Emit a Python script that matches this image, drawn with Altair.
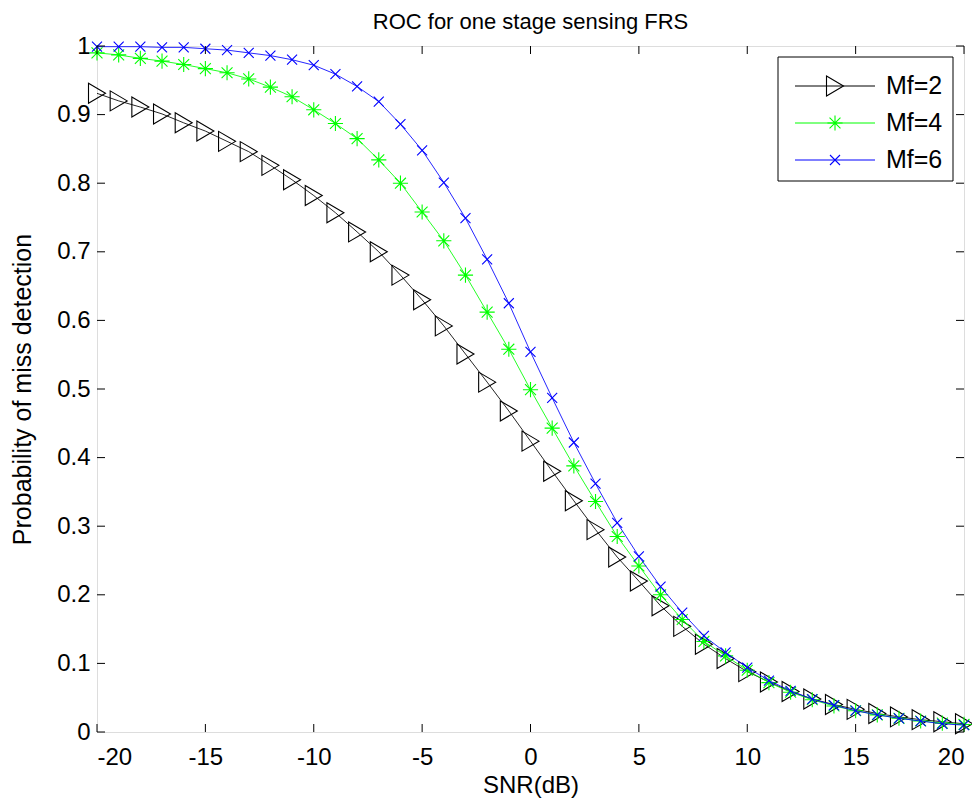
import altair as alt
import pandas as pd

snr = list(range(-20, 21))
pm_mf2 = [0.931, 0.920, 0.911, 0.901, 0.888, 0.876, 0.861, 0.846, 0.826, 0.805,
          0.782, 0.757, 0.729, 0.700, 0.666, 0.630, 0.592, 0.551, 0.510, 0.468,
          0.424, 0.380, 0.337, 0.295, 0.255, 0.220, 0.184, 0.154, 0.128, 0.107,
          0.088, 0.073, 0.059, 0.048, 0.040, 0.033, 0.027, 0.022, 0.018, 0.015, 0.012]
pm_mf4 = [0.990, 0.987, 0.982, 0.978, 0.973, 0.967, 0.961, 0.952, 0.940, 0.926,
          0.907, 0.887, 0.865, 0.834, 0.800, 0.758, 0.716, 0.666, 0.612, 0.558,
          0.499, 0.443, 0.388, 0.336, 0.285, 0.242, 0.200, 0.164, 0.132, 0.111,
          0.090, 0.072, 0.058, 0.047, 0.038, 0.031, 0.025, 0.020, 0.016, 0.013, 0.011]
pm_mf6 = [0.999, 0.999, 0.999, 0.998, 0.998, 0.996, 0.994, 0.990, 0.986, 0.980,
          0.972, 0.959, 0.941, 0.919, 0.886, 0.848, 0.801, 0.749, 0.689, 0.625,
          0.554, 0.487, 0.422, 0.362, 0.305, 0.256, 0.212, 0.174, 0.140, 0.116,
          0.094, 0.075, 0.060, 0.048, 0.039, 0.031, 0.025, 0.020, 0.016, 0.012, 0.010]
series_labels = ["Mf=2", "Mf=4", "Mf=6"]
x_ticks = [-20, -15, -10, -5, 0, 5, 10, 15, 20]
y_ticks = [0, 0.1, 0.2, 0.3, 0.4, 0.5, 0.6, 0.7, 0.8, 0.9, 1]

FONT = "Liberation Sans"
W, H = 867, 686
TICK_FS = 24
TITLE_FS = 25

colors = ["#000000", "#00ff00", "#0000ff"]
tri = "M-0.85,-1L0.85,0L-0.85,1Z"
star = "M0,-1L0,1M-1,0L1,0M-0.72,-0.72L0.72,0.72M0.72,-0.72L-0.72,0.72"
xmark = "M-1,-1L1,1M1,-1L-1,1"
shapes = [tri, star, xmark]
sizes = [400, 230, 100]

xs = alt.Scale(domain=[-20, 20], nice=False, zero=False)
ys = alt.Scale(domain=[0, 1], nice=False, zero=False)

x_enc = alt.X("snr:Q", scale=xs, axis=alt.Axis(
    values=x_ticks, ticks=False, tickSize=0, domain=False, grid=False,
    labelExpr="'' + datum.value", labelPadding=13, labelFontSize=TICK_FS,
    labelFont=FONT, labelColor="black", title="SNR(dB)", titleFont=FONT,
    titleFontSize=24, titleFontWeight="normal", titleColor="black", titlePadding=4))
y_enc = alt.Y("pm:Q", scale=ys, axis=alt.Axis(
    values=y_ticks, ticks=False, tickSize=0, domain=False, grid=False,
    format="~g", labelPadding=7, labelFontSize=TICK_FS, labelFont=FONT,
    labelColor="black", title="Probability of miss detection", titleFont=FONT,
    titleFontSize=TITLE_FS, titleFontWeight="normal", titleColor="black", titlePadding=21))

layers = []
for lab, vals, col, shp, sz in zip(series_labels, [pm_mf2, pm_mf4, pm_mf6], colors, shapes, sizes):
    df = pd.DataFrame({"snr": snr, "pm": vals})
    base = alt.Chart(df)
    layers.append(base.mark_line(color=col, strokeWidth=1, opacity=0.85).encode(x=x_enc, y=y_enc))
    layers.append(base.mark_point(shape=shp, size=sz, color=col, filled=False,
                                  strokeWidth=1.1, opacity=1).encode(x="snr:Q", y="pm:Q"))

# inward ticks on all four sides
xt = pd.DataFrame({"snr": x_ticks})
yt = pd.DataFrame({"pm": y_ticks})
tick_len = 8
layers.append(alt.Chart(xt).mark_rule(color="black", strokeWidth=1).encode(
    x="snr:Q", y=alt.value(H), y2=alt.value(H - tick_len)))
layers.append(alt.Chart(xt).mark_rule(color="black", strokeWidth=1).encode(
    x="snr:Q", y=alt.value(0), y2=alt.value(tick_len)))
layers.append(alt.Chart(yt).mark_rule(color="black", strokeWidth=1).encode(
    y="pm:Q", x=alt.value(0), x2=alt.value(tick_len)))
layers.append(alt.Chart(yt).mark_rule(color="black", strokeWidth=1).encode(
    y="pm:Q", x=alt.value(W), x2=alt.value(W - tick_len)))

# legend box
box = pd.DataFrame({"k": [0]})
layers.append(alt.Chart(box).mark_rect(fill="white", stroke="black", strokeWidth=1).encode(
    x=alt.value(681), x2=alt.value(856), y=alt.value(11), y2=alt.value(135)))
row_y = [40, 77, 114]
for lab, col, shp, sz, yy in zip(series_labels, colors, shapes, sizes, row_y):
    ld = pd.DataFrame({"label": [lab]})
    lc = alt.Chart(ld)
    layers.append(lc.mark_rule(color=col, strokeWidth=1).encode(
        x=alt.value(698), x2=alt.value(778), y=alt.value(yy)))
    layers.append(lc.mark_point(shape=shp, size=sz, color=col, filled=False, strokeWidth=1.1,
                                opacity=1).encode(x=alt.value(738), y=alt.value(yy)))
    layers.append(lc.mark_text(align="left", baseline="middle", font=FONT, fontSize=25,
                               color="black").encode(x=alt.value(789), y=alt.value(yy), text="label:N"))

chart = alt.layer(*layers).properties(
    width=W, height=H,
    title=alt.TitleParams("ROC for one stage sensing FRS", font=FONT, fontSize=22,
                          fontWeight="normal", color="black", anchor="middle",
                          frame="group", offset=0),
    padding={"left": 89, "top": 38, "right": 8, "bottom": 66},
    autosize=alt.AutoSizeParams(type="none"),
).configure_view(stroke="black", strokeWidth=1.5).configure(background="white")

chart.save("out.html", embed_options={"renderer": "svg", "actions": False})
